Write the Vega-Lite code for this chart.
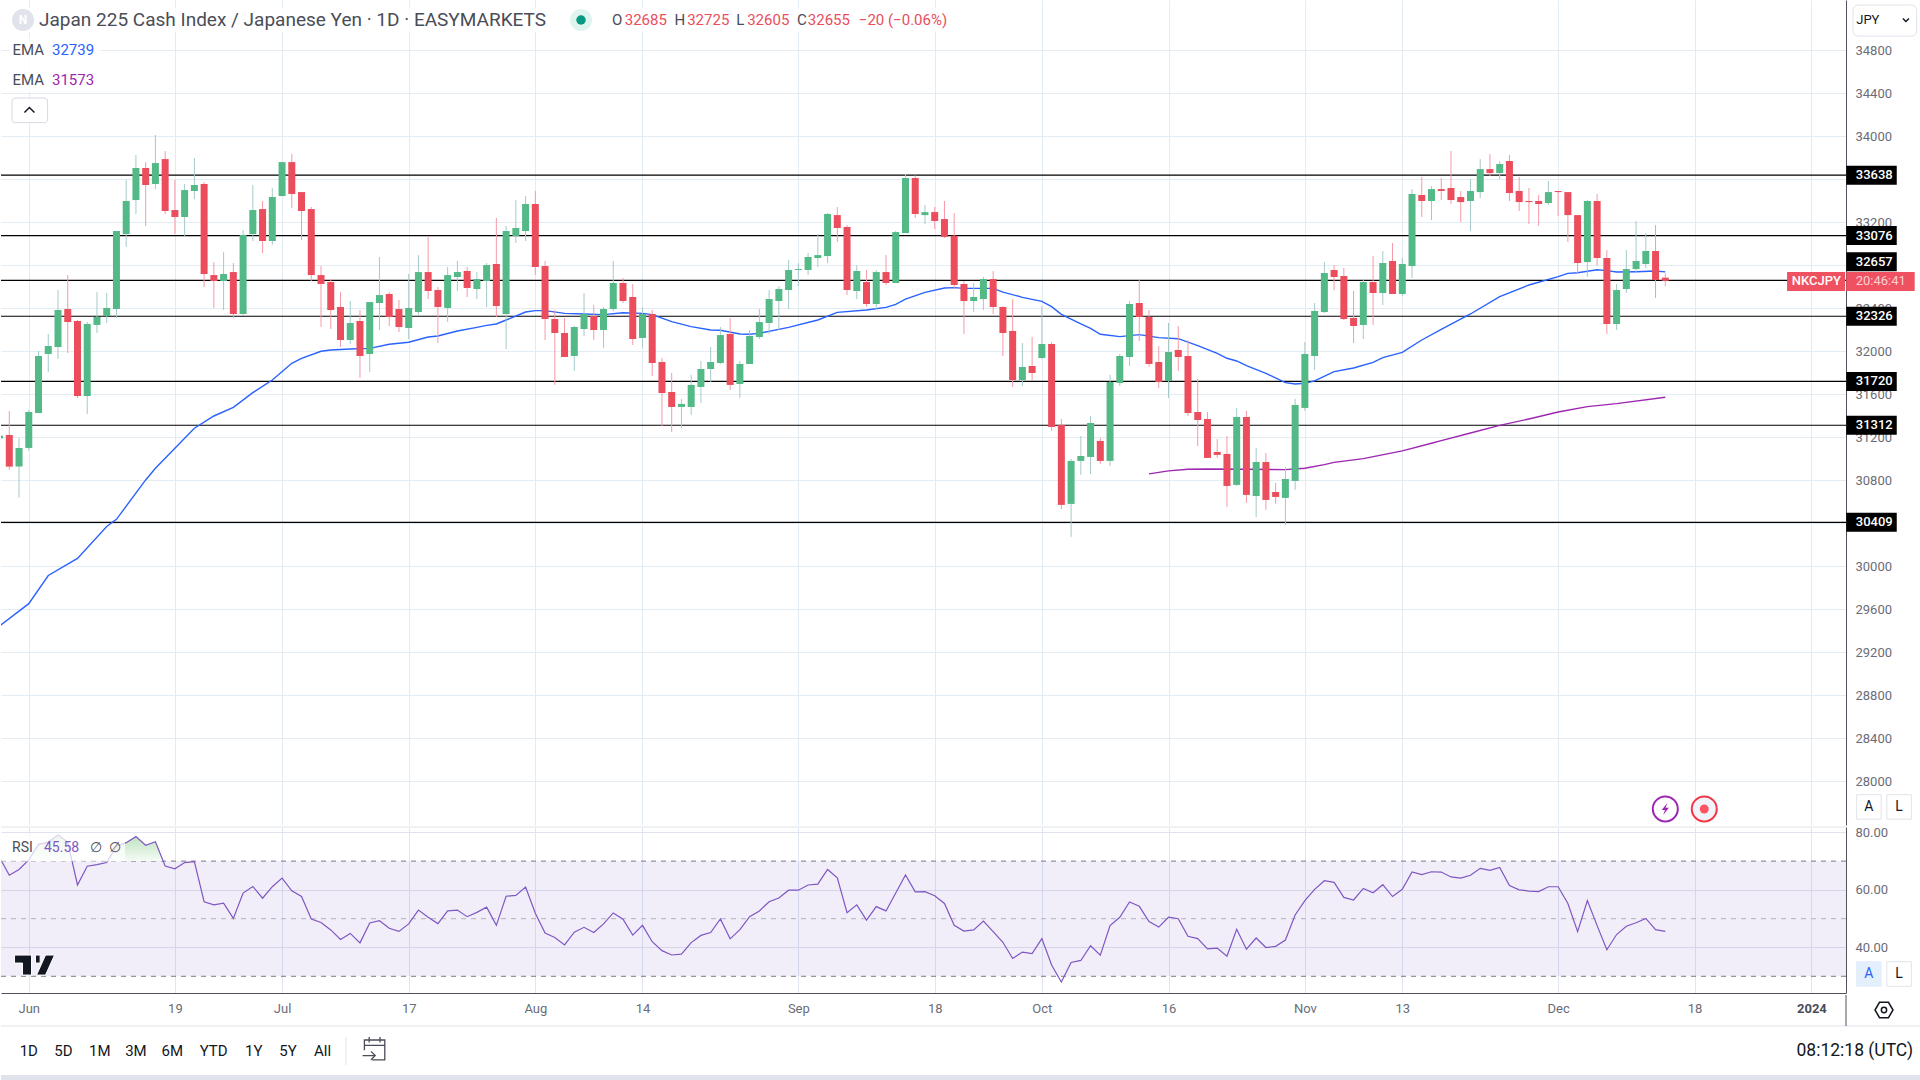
{
"$schema":"https://vega.github.io/schema/vega-lite/v6.json",
"padding":0,"background":"#ffffff","bounds":"flush","spacing":2,
"config":{"view":{"stroke":null},"font":"Roboto","axis":{"labelFont":"Roboto","title":null}},
"datasets":{
"candles":[
{"i":-1,"o":31190,"h":31240,"l":31170,"c":31215},
{"i":0,"o":31221,"h":31445,"l":30896,"c":30927},{"i":1,"o":30927,"h":31194,"l":30639,"c":31101},{"i":2,"o":31101,"h":31454,"l":31076,"c":31435},{"i":3,"o":31426,"h":32003,"l":31426,"c":31956},{"i":4,"o":31975,"h":32161,"l":31807,"c":32049},{"i":5,"o":32040,"h":32570,"l":31928,"c":32384},{"i":6,"o":32393,"h":32709,"l":31984,"c":32272},{"i":7,"o":32282,"h":32291,"l":31566,"c":31584},{"i":8,"o":31584,"h":32272,"l":31417,"c":32254},{"i":9,"o":32245,"h":32551,"l":32170,"c":32319},
{"i":10,"o":32328,"h":32542,"l":32263,"c":32403},{"i":11,"o":32393,"h":33119,"l":32310,"c":33119},{"i":12,"o":33091,"h":33593,"l":32970,"c":33398},{"i":13,"o":33407,"h":33826,"l":33277,"c":33705},{"i":14,"o":33705,"h":33760,"l":33165,"c":33547},{"i":15,"o":33556,"h":34012,"l":33509,"c":33751},{"i":16,"o":33788,"h":33863,"l":33277,"c":33305},{"i":17,"o":33314,"h":33593,"l":33091,"c":33249},{"i":18,"o":33249,"h":33556,"l":33072,"c":33500},{"i":19,"o":33491,"h":33798,"l":33416,"c":33547},
{"i":20,"o":33556,"h":33574,"l":32598,"c":32719},{"i":21,"o":32709,"h":32830,"l":32403,"c":32654},{"i":22,"o":32654,"h":32923,"l":32384,"c":32719},{"i":23,"o":32737,"h":32821,"l":32310,"c":32347},{"i":24,"o":32347,"h":33128,"l":32338,"c":33082},{"i":25,"o":33091,"h":33547,"l":33026,"c":33314},{"i":26,"o":33323,"h":33398,"l":32914,"c":33026},{"i":27,"o":33026,"h":33519,"l":32989,"c":33435},{"i":28,"o":33444,"h":33760,"l":33444,"c":33760},{"i":29,"o":33760,"h":33835,"l":33333,"c":33463},
{"i":30,"o":33481,"h":33481,"l":33035,"c":33305},{"i":31,"o":33323,"h":33342,"l":32654,"c":32709},{"i":32,"o":32709,"h":32793,"l":32226,"c":32626},{"i":33,"o":32644,"h":32672,"l":32207,"c":32384},{"i":34,"o":32412,"h":32551,"l":32040,"c":32105},{"i":35,"o":32105,"h":32468,"l":32068,"c":32263},{"i":36,"o":32282,"h":32384,"l":31752,"c":31956},{"i":37,"o":31975,"h":32458,"l":31807,"c":32458},{"i":38,"o":32449,"h":32877,"l":32198,"c":32523},{"i":39,"o":32533,"h":32551,"l":32235,"c":32319},
{"i":40,"o":32393,"h":32477,"l":32179,"c":32226},{"i":41,"o":32217,"h":32719,"l":32114,"c":32403},{"i":42,"o":32365,"h":32895,"l":32338,"c":32737},{"i":43,"o":32737,"h":33072,"l":32486,"c":32561},{"i":44,"o":32570,"h":32598,"l":32077,"c":32412},{"i":45,"o":32403,"h":32784,"l":32272,"c":32709},{"i":46,"o":32691,"h":32840,"l":32561,"c":32737},{"i":47,"o":32747,"h":32784,"l":32505,"c":32589},{"i":48,"o":32579,"h":32737,"l":32486,"c":32672},{"i":49,"o":32654,"h":32821,"l":32412,"c":32802},
{"i":50,"o":32812,"h":33240,"l":32319,"c":32421},{"i":51,"o":32347,"h":33165,"l":32021,"c":33119},{"i":52,"o":33072,"h":33407,"l":33007,"c":33147},{"i":53,"o":33119,"h":33444,"l":33026,"c":33370},{"i":54,"o":33370,"h":33491,"l":32709,"c":32784},{"i":55,"o":32793,"h":32840,"l":32105,"c":32300},{"i":56,"o":32300,"h":32384,"l":31687,"c":32170},{"i":57,"o":32170,"h":32310,"l":31947,"c":31947},{"i":58,"o":31956,"h":32235,"l":31817,"c":32226},{"i":59,"o":32207,"h":32542,"l":32142,"c":32347},
{"i":60,"o":32328,"h":32430,"l":32105,"c":32198},{"i":61,"o":32198,"h":32412,"l":32031,"c":32393},{"i":62,"o":32393,"h":32840,"l":32375,"c":32635},{"i":63,"o":32635,"h":32682,"l":32449,"c":32468},{"i":64,"o":32505,"h":32626,"l":32059,"c":32114},{"i":65,"o":32124,"h":32412,"l":32031,"c":32347},{"i":66,"o":32347,"h":32384,"l":31770,"c":31891},{"i":67,"o":31900,"h":31938,"l":31305,"c":31612},{"i":68,"o":31621,"h":31798,"l":31249,"c":31482},{"i":69,"o":31482,"h":31556,"l":31287,"c":31510},
{"i":70,"o":31482,"h":31780,"l":31408,"c":31687},{"i":71,"o":31668,"h":31910,"l":31519,"c":31835},{"i":72,"o":31835,"h":32040,"l":31714,"c":31900},{"i":73,"o":31891,"h":32226,"l":31882,"c":32151},{"i":74,"o":32161,"h":32310,"l":31640,"c":31687},{"i":75,"o":31696,"h":31910,"l":31566,"c":31882},{"i":76,"o":31882,"h":32198,"l":31882,"c":32142},{"i":77,"o":32133,"h":32393,"l":32114,"c":32272},{"i":78,"o":32263,"h":32570,"l":32161,"c":32486},{"i":79,"o":32468,"h":32607,"l":32198,"c":32579},
{"i":80,"o":32570,"h":32849,"l":32393,"c":32756},{"i":81,"o":32756,"h":32821,"l":32607,"c":32765},{"i":82,"o":32756,"h":32914,"l":32709,"c":32877},{"i":83,"o":32868,"h":33091,"l":32784,"c":32895},{"i":84,"o":32886,"h":33286,"l":32821,"c":33277},{"i":85,"o":33267,"h":33342,"l":33016,"c":33147},{"i":86,"o":33156,"h":33174,"l":32523,"c":32570},{"i":87,"o":32561,"h":32802,"l":32486,"c":32747},{"i":88,"o":32644,"h":32756,"l":32412,"c":32440},{"i":89,"o":32440,"h":32756,"l":32393,"c":32737},
{"i":90,"o":32737,"h":32895,"l":32617,"c":32635},{"i":91,"o":32635,"h":33119,"l":32635,"c":33109},{"i":92,"o":33100,"h":33649,"l":33100,"c":33612},{"i":93,"o":33612,"h":33636,"l":33240,"c":33277},{"i":94,"o":33267,"h":33361,"l":33184,"c":33295},{"i":95,"o":33295,"h":33342,"l":33137,"c":33212},{"i":96,"o":33230,"h":33398,"l":33054,"c":33063},{"i":97,"o":33075,"h":33286,"l":32579,"c":32617},{"i":98,"o":32626,"h":32654,"l":32161,"c":32468},{"i":99,"o":32468,"h":32635,"l":32365,"c":32505},
{"i":100,"o":32486,"h":32691,"l":32384,"c":32672},{"i":101,"o":32672,"h":32747,"l":32347,"c":32412},{"i":102,"o":32412,"h":32421,"l":31956,"c":32170},{"i":103,"o":32189,"h":32486,"l":31668,"c":31733},{"i":104,"o":31733,"h":32077,"l":31677,"c":31854},{"i":105,"o":31863,"h":32133,"l":31724,"c":31798},{"i":106,"o":31938,"h":32421,"l":31928,"c":32068},{"i":107,"o":32068,"h":32086,"l":31259,"c":31296},{"i":108,"o":31315,"h":31370,"l":30533,"c":30571},{"i":109,"o":30580,"h":31000,"l":30273,"c":30980},
{"i":110,"o":30980,"h":31212,"l":30850,"c":31026},{"i":111,"o":31017,"h":31398,"l":30859,"c":31333},{"i":112,"o":31166,"h":31194,"l":30952,"c":30980},{"i":113,"o":30980,"h":31780,"l":30933,"c":31714},{"i":114,"o":31705,"h":31975,"l":31677,"c":31956},{"i":115,"o":31947,"h":32468,"l":31863,"c":32440},{"i":116,"o":32449,"h":32663,"l":32096,"c":32319},{"i":117,"o":32319,"h":32384,"l":31854,"c":31882},{"i":118,"o":31900,"h":32049,"l":31659,"c":31714},{"i":119,"o":31724,"h":32263,"l":31566,"c":31993},
{"i":120,"o":32012,"h":32235,"l":31817,"c":31947},{"i":121,"o":31956,"h":32105,"l":31398,"c":31426},{"i":122,"o":31435,"h":31742,"l":31119,"c":31361},{"i":123,"o":31370,"h":31435,"l":31008,"c":31008},{"i":124,"o":31063,"h":31184,"l":31008,"c":31036},{"i":125,"o":31045,"h":31212,"l":30552,"c":30747},{"i":126,"o":30757,"h":31473,"l":30747,"c":31389},{"i":127,"o":31389,"h":31445,"l":30589,"c":30664},{"i":128,"o":30654,"h":31101,"l":30459,"c":30970},{"i":129,"o":30970,"h":31054,"l":30524,"c":30617},
{"i":130,"o":30691,"h":30775,"l":30580,"c":30645},{"i":131,"o":30636,"h":30924,"l":30385,"c":30812},{"i":132,"o":30794,"h":31556,"l":30710,"c":31500},{"i":133,"o":31473,"h":32086,"l":31445,"c":31975},{"i":134,"o":31956,"h":32449,"l":31826,"c":32375},{"i":135,"o":32365,"h":32830,"l":32356,"c":32728},{"i":136,"o":32756,"h":32802,"l":32570,"c":32691},{"i":137,"o":32700,"h":32775,"l":32291,"c":32300},{"i":138,"o":32310,"h":32561,"l":32077,"c":32235},{"i":139,"o":32245,"h":32663,"l":32114,"c":32644},
{"i":140,"o":32644,"h":32886,"l":32245,"c":32542},{"i":141,"o":32542,"h":32933,"l":32430,"c":32821},{"i":142,"o":32840,"h":33007,"l":32533,"c":32533},{"i":143,"o":32533,"h":32868,"l":32514,"c":32812},{"i":144,"o":32793,"h":33509,"l":32682,"c":33463},{"i":145,"o":33454,"h":33621,"l":33249,"c":33398},{"i":146,"o":33398,"h":33537,"l":33221,"c":33509},{"i":147,"o":33509,"h":33612,"l":33407,"c":33491},{"i":148,"o":33519,"h":33863,"l":33370,"c":33407},{"i":149,"o":33435,"h":33491,"l":33202,"c":33388},
{"i":150,"o":33398,"h":33602,"l":33119,"c":33491},{"i":151,"o":33481,"h":33788,"l":33426,"c":33695},{"i":152,"o":33695,"h":33835,"l":33630,"c":33658},{"i":153,"o":33658,"h":33770,"l":33602,"c":33742},{"i":154,"o":33770,"h":33826,"l":33398,"c":33472},{"i":155,"o":33491,"h":33621,"l":33305,"c":33388},{"i":156,"o":33398,"h":33519,"l":33184,"c":33388},{"i":157,"o":33398,"h":33453,"l":33165,"c":33370},{"i":158,"o":33379,"h":33584,"l":33360,"c":33481},{"i":159,"o":33491,"h":33491,"l":33258,"c":33481},
{"i":160,"o":33481,"h":33481,"l":33016,"c":33267},{"i":161,"o":33267,"h":33267,"l":32719,"c":32821},{"i":162,"o":32830,"h":33407,"l":32691,"c":33398},{"i":163,"o":33398,"h":33463,"l":32793,"c":32868},{"i":164,"o":32868,"h":32942,"l":32161,"c":32254},{"i":165,"o":32254,"h":32626,"l":32198,"c":32570},{"i":166,"o":32579,"h":32942,"l":32542,"c":32765},{"i":167,"o":32765,"h":33212,"l":32737,"c":32840},{"i":168,"o":32812,"h":33100,"l":32775,"c":32933},{"i":169,"o":32933,"h":33174,"l":32496,"c":32663},{"i":170,"o":32685,"h":32725,"l":32605,"c":32655}
],
"ema50":[{"i":-1,"ema":29445},{"i":2,"ema":29652},{"i":4,"ema":29914},{"i":7,"ema":30073},{"i":10,"ema":30370},{"i":11,"ema":30437},{"i":14,"ema":30803},{"i":15,"ema":30912},{"i":17,"ema":31097},{"i":19,"ema":31284},{"i":21,"ema":31398},{"i":23,"ema":31479},{"i":25,"ema":31615},{"i":27,"ema":31733},{"i":29,"ema":31888},{"i":30,"ema":31935},{"i":32,"ema":32000},{"i":33,"ema":32012},{"i":35,"ema":32021},{"i":37,"ema":32027},{"i":39,"ema":32065},{"i":41,"ema":32084},{"i":43,"ema":32133},{"i":44,"ema":32142},{"i":46,"ema":32189},{"i":48,"ema":32223},{"i":49,"ema":32241},{"i":50,"ema":32254},{"i":51,"ema":32291},{"i":53,"ema":32365},{"i":54,"ema":32378},{"i":55,"ema":32378},{"i":57,"ema":32353},{"i":59,"ema":32347},{"i":61,"ema":32341},{"i":63,"ema":32359},{"i":65,"ema":32353},{"i":66,"ema":32341},{"i":68,"ema":32276},{"i":70,"ema":32229},{"i":72,"ema":32198},{"i":73,"ema":32195},{"i":75,"ema":32161},{"i":76,"ema":32158},{"i":77,"ema":32167},{"i":80,"ema":32223},{"i":83,"ema":32291},{"i":85,"ema":32362},{"i":88,"ema":32384},{"i":90,"ema":32409},{"i":91,"ema":32437},{"i":92,"ema":32486},{"i":94,"ema":32548},{"i":96,"ema":32589},{"i":97,"ema":32592},{"i":98,"ema":32585},{"i":101,"ema":32585},{"i":102,"ema":32551},{"i":104,"ema":32502},{"i":106,"ema":32465},{"i":107,"ema":32415},{"i":108,"ema":32344},{"i":110,"ema":32254},{"i":111,"ema":32213},{"i":112,"ema":32158},{"i":114,"ema":32136},{"i":116,"ema":32155},{"i":118,"ema":32127},{"i":120,"ema":32117},{"i":122,"ema":32052},{"i":124,"ema":31981},{"i":125,"ema":31935},{"i":126,"ema":31910},{"i":127,"ema":31866},{"i":129,"ema":31795},{"i":131,"ema":31708},{"i":132,"ema":31696},{"i":133,"ema":31702},{"i":134,"ema":31724},{"i":136,"ema":31811},{"i":138,"ema":31845},{"i":140,"ema":31897},{"i":141,"ema":31941},{"i":143,"ema":31990},{"i":145,"ema":32105},{"i":147,"ema":32204},{"i":150,"ema":32347},{"i":153,"ema":32508},{"i":156,"ema":32617},{"i":159,"ema":32694},{"i":160,"ema":32725},{"i":161,"ema":32731},{"i":163,"ema":32759},{"i":164,"ema":32750},{"i":165,"ema":32737},{"i":167,"ema":32740},{"i":169,"ema":32747},{"i":170,"ema":32739}],
"ema200":[{"i":117,"ema":30859},{"i":119,"ema":30887},{"i":121,"ema":30902},{"i":123,"ema":30905},{"i":127,"ema":30902},{"i":131,"ema":30899},{"i":133,"ema":30912},{"i":135,"ema":30946},{"i":136,"ema":30967},{"i":139,"ema":31001},{"i":143,"ema":31073},{"i":146,"ema":31144},{"i":147,"ema":31169},{"i":150,"ema":31240},{"i":153,"ema":31311},{"i":156,"ema":31370},{"i":159,"ema":31435},{"i":162,"ema":31485},{"i":165,"ema":31513},{"i":170,"ema":31573}],
"levels":[{"level":33638,"tag":33638,"label":"33638","from":-0.852,"to":188.55,"tagFrom":188.58,"tagTo":193.76,"tagText":189.55},{"level":33076,"tag":33076,"label":"33076","from":-0.852,"to":188.55,"tagFrom":188.58,"tagTo":193.76,"tagText":189.55},{"level":32660,"tag":32834,"label":"32657","from":-0.852,"to":188.55,"tagFrom":188.58,"tagTo":193.76,"tagText":189.55},{"level":32326,"tag":32326,"label":"32326","from":-0.852,"to":188.55,"tagFrom":188.58,"tagTo":193.76,"tagText":189.55},{"level":31720,"tag":31720,"label":"31720","from":-0.852,"to":188.55,"tagFrom":188.58,"tagTo":193.76,"tagText":189.55},{"level":31312,"tag":31312,"label":"31312","from":-0.852,"to":188.55,"tagFrom":188.58,"tagTo":193.76,"tagText":189.55},{"level":30409,"tag":30409,"label":"30409","from":-0.852,"to":188.55,"tagFrom":188.58,"tagTo":193.76,"tagText":189.55}],
"rsi":[{"i":-1,"rsi":71.3},{"i":0,"rsi":65.1},{"i":1,"rsi":67.1},{"i":2,"rsi":70.4},{"i":3,"rsi":75.8},{"i":4,"rsi":76.6},{"i":5,"rsi":79.1},{"i":6,"rsi":76.6},{"i":7,"rsi":61.7},{"i":8,"rsi":68.2},{"i":9,"rsi":68.8},{"i":10,"rsi":69.5},{"i":11,"rsi":75.2},{"i":12,"rsi":76.4},{"i":13,"rsi":78.5},{"i":14,"rsi":75.5},{"i":15,"rsi":76.7},{"i":16,"rsi":68.3},{"i":17,"rsi":67.3},{"i":18,"rsi":69.5},{"i":19,"rsi":69.8},{"i":20,"rsi":55.9},{"i":21,"rsi":54.8},{"i":22,"rsi":55.4},{"i":23,"rsi":50.1},{"i":24,"rsi":58.9},{"i":25,"rsi":61.2},{"i":26,"rsi":57.1},{"i":27,"rsi":61.1},{"i":28,"rsi":64.1},{"i":29,"rsi":59.7},{"i":30,"rsi":57.7},{"i":31,"rsi":49.9},{"i":32,"rsi":48.7},{"i":33,"rsi":46.1},{"i":34,"rsi":42.8},{"i":35,"rsi":44.9},{"i":36,"rsi":41.6},{"i":37,"rsi":48.5},{"i":38,"rsi":49.3},{"i":39,"rsi":46.7},{"i":40,"rsi":45.6},{"i":41,"rsi":48.2},{"i":42,"rsi":53.0},{"i":43,"rsi":50.5},{"i":44,"rsi":48.3},{"i":45,"rsi":52.7},{"i":46,"rsi":53.0},{"i":47,"rsi":50.7},{"i":48,"rsi":52.2},{"i":49,"rsi":54.0},{"i":50,"rsi":47.7},{"i":51,"rsi":57.8},{"i":52,"rsi":58.1},{"i":53,"rsi":61.0},{"i":54,"rsi":51.9},{"i":55,"rsi":45.0},{"i":56,"rsi":43.5},{"i":57,"rsi":40.9},{"i":58,"rsi":45.3},{"i":59,"rsi":47.0},{"i":60,"rsi":45.2},{"i":61,"rsi":48.2},{"i":62,"rsi":52.0},{"i":63,"rsi":49.8},{"i":64,"rsi":44.3},{"i":65,"rsi":47.7},{"i":66,"rsi":42.0},{"i":67,"rsi":38.9},{"i":68,"rsi":37.4},{"i":69,"rsi":37.7},{"i":70,"rsi":41.7},{"i":71,"rsi":44.2},{"i":72,"rsi":45.2},{"i":73,"rsi":49.9},{"i":74,"rsi":43.0},{"i":75,"rsi":46.2},{"i":76,"rsi":50.7},{"i":77,"rsi":52.7},{"i":78,"rsi":55.9},{"i":79,"rsi":57.2},{"i":80,"rsi":59.9},{"i":81,"rsi":59.9},{"i":82,"rsi":61.7},{"i":83,"rsi":62.0},{"i":84,"rsi":67.1},{"i":85,"rsi":64.2},{"i":86,"rsi":52.1},{"i":87,"rsi":54.8},{"i":88,"rsi":49.5},{"i":89,"rsi":54.2},{"i":90,"rsi":52.7},{"i":91,"rsi":58.9},{"i":92,"rsi":65.2},{"i":93,"rsi":59.3},{"i":94,"rsi":59.4},{"i":95,"rsi":58.0},{"i":96,"rsi":55.3},{"i":97,"rsi":47.7},{"i":98,"rsi":45.7},{"i":99,"rsi":46.1},{"i":100,"rsi":49.2},{"i":101,"rsi":45.5},{"i":102,"rsi":41.8},{"i":103,"rsi":36.2},{"i":104,"rsi":38.4},{"i":105,"rsi":37.9},{"i":106,"rsi":43.1},{"i":107,"rsi":33.9},{"i":108,"rsi":28.0},{"i":109,"rsi":34.8},{"i":110,"rsi":35.5},{"i":111,"rsi":40.6},{"i":112,"rsi":37.3},{"i":113,"rsi":47.6},{"i":114,"rsi":50.5},{"i":115,"rsi":55.8},{"i":116,"rsi":54.3},{"i":117,"rsi":49.0},{"i":118,"rsi":47.1},{"i":119,"rsi":50.5},{"i":120,"rsi":50.0},{"i":121,"rsi":43.9},{"i":122,"rsi":43.1},{"i":123,"rsi":39.5},{"i":124,"rsi":39.8},{"i":125,"rsi":37.0},{"i":126,"rsi":46.3},{"i":127,"rsi":39.4},{"i":128,"rsi":43.3},{"i":129,"rsi":40.0},{"i":130,"rsi":40.4},{"i":131,"rsi":42.6},{"i":132,"rsi":51.3},{"i":133,"rsi":56.3},{"i":134,"rsi":60.2},{"i":135,"rsi":63.2},{"i":136,"rsi":62.6},{"i":137,"rsi":57.4},{"i":138,"rsi":56.5},{"i":139,"rsi":60.5},{"i":140,"rsi":59.0},{"i":141,"rsi":61.8},{"i":142,"rsi":57.7},{"i":143,"rsi":60.2},{"i":144,"rsi":66.2},{"i":145,"rsi":65.3},{"i":146,"rsi":66.3},{"i":147,"rsi":66.2},{"i":148,"rsi":64.5},{"i":149,"rsi":64.1},{"i":150,"rsi":65.1},{"i":151,"rsi":67.5},{"i":152,"rsi":66.8},{"i":153,"rsi":67.8},{"i":154,"rsi":61.5},{"i":155,"rsi":60.0},{"i":156,"rsi":59.6},{"i":157,"rsi":59.4},{"i":158,"rsi":61.1},{"i":159,"rsi":61.1},{"i":160,"rsi":55.3},{"i":161,"rsi":45.5},{"i":162,"rsi":56.3},{"i":163,"rsi":47.6},{"i":164,"rsi":39.2},{"i":165,"rsi":44.5},{"i":166,"rsi":47.4},{"i":167,"rsi":48.6},{"i":168,"rsi":50.1},{"i":169,"rsi":46.2},{"i":170,"rsi":45.6}],
"overbought":[{"seg":1,"i":2,"rsi":70.4},{"seg":1,"i":3,"rsi":75.8},{"seg":1,"i":4,"rsi":76.6},{"seg":1,"i":5,"rsi":79.1},{"seg":1,"i":6,"rsi":76.6},{"seg":1,"i":6.44,"rsi":70},{"seg":2,"i":10.1,"rsi":70},{"seg":2,"i":11,"rsi":75.2},{"seg":2,"i":12,"rsi":76.4},{"seg":2,"i":13,"rsi":78.5},{"seg":2,"i":14,"rsi":75.5},{"seg":2,"i":15,"rsi":76.7},{"seg":2,"i":15.8,"rsi":70}]
},
"vconcat":[
{"width":1845,"height":825,
 "encoding":{"x":{"field":"i","type":"quantitative","title":null,"scale":{"domain":[-0.852,188.55],"nice":false,"zero":false,"padding":0},"axis":{"values":[2,17,28,41,54,65,81,95,106,119,133,143,159,173,185],"labels":false,"ticks":false,"domain":false,"grid":true,"gridColor":"#e3ecf3","gridWidth":1,"title":null}}},
 "layer":[
 {"data":{"values":[{"i":-0.03,"i2":97.7,"p":35194,"p2":34970},{"i":-0.03,"i2":9.4,"p":34914,"p2":34412}]},"mark":{"type":"rect","fill":"#ffffff","opacity":0.85},
  "encoding":{"x2":{"field":"i2"},"y":{"field":"p","type":"quantitative","title":null,"scale":{"domain":[27593,35268],"nice":false,"zero":false},"axis":{"orient":"right","values":[28000,28400,28800,29200,29600,30000,30400,30800,31200,31600,32000,32400,32800,33200,33600,34000,34400,34800],"format":"d","grid":true,"gridColor":"#e3ecf3","gridWidth":1,"ticks":false,"domain":true,"domainColor":"#50535e","domainWidth":1,"labelColor":"#6a6d78","labelFontSize":13,"labelPadding":9,"labelOverlap":false,"title":null}},"y2":{"field":"p2"}}},
 {"data":{"name":"levels"},"mark":{"type":"rule","color":"#000000","strokeWidth":1.2},"encoding":{"x":{"field":"from","type":"quantitative"},"x2":{"field":"to"},"y":{"field":"level","type":"quantitative"}}},
 {"data":{"name":"ema200"},"mark":{"type":"line","color":"#9c27b0","strokeWidth":1.4,"clip":true},"encoding":{"y":{"field":"ema","type":"quantitative"}}},
 {"data":{"name":"ema50"},"mark":{"type":"line","color":"#2962ff","strokeWidth":1.4,"clip":true},"encoding":{"y":{"field":"ema","type":"quantitative"}}},
 {"data":{"name":"candles"},"mark":{"type":"rule","strokeWidth":1,"clip":true},"encoding":{"y":{"field":"l","type":"quantitative"},"y2":{"field":"h"},"color":{"condition":{"test":"datum.c>=datum.o","value":"#a5c9c9"},"value":"#f59aa6"}}},
 {"data":{"name":"candles"},"mark":{"type":"bar","orient":"vertical","size":7,"clip":true},"encoding":{"y":{"field":"o","type":"quantitative"},"y2":{"field":"c"},"color":{"condition":{"test":"datum.c>=datum.o","value":"#53b987"},"value":"#eb4d5c"}}},
 {"data":{"name":"levels"},"mark":{"type":"rule","color":"#000000","strokeWidth":19},"encoding":{"x":{"field":"tagFrom","type":"quantitative"},"x2":{"field":"tagTo"},"y":{"field":"tag","type":"quantitative"}}},
 {"data":{"name":"levels"},"mark":{"type":"text","color":"#ffffff","fontSize":13,"fontWeight":500,"align":"left","baseline":"middle"},"encoding":{"x":{"field":"tagText","type":"quantitative"},"y":{"field":"tag","type":"quantitative"},"text":{"field":"label"}}},
 {"data":{"values":[{"i":182.5,"i2":188.45,"p":32650},{"i":188.58,"i2":195.6,"p":32650}]},"mark":{"type":"rule","color":"#ef5160","strokeWidth":19},"encoding":{"x2":{"field":"i2"},"y":{"field":"p","type":"quantitative"}}},
 {"data":{"values":[{"i":185.5,"p":32650,"label":"NKCJPY"}]},"mark":{"type":"text","color":"#ffffff","fontSize":13,"fontWeight":500,"align":"center","baseline":"middle"},"encoding":{"y":{"field":"p","type":"quantitative"},"text":{"field":"label"}}},
 {"data":{"values":[{"i":189.55,"p":32650,"label":"20:46:41"}]},"mark":{"type":"text","color":"#fbd0d5","fontSize":13,"align":"left","baseline":"middle"},"encoding":{"y":{"field":"p","type":"quantitative"},"text":{"field":"label"}}},
 {"data":{"values":[{"i":1.41,"p":35082}]},"mark":{"type":"point","filled":true,"size":484,"shape":"circle","color":"#e0e3eb","opacity":1},"encoding":{"y":{"field":"p","type":"quantitative"}}},
 {"data":{"values":[{"i":1.41,"p":35082,"label":"N"}]},"mark":{"type":"text","color":"#ffffff","fontSize":12,"fontWeight":700,"align":"center","baseline":"middle"},"encoding":{"y":{"field":"p","type":"quantitative"},"text":{"field":"label"}}},
 {"data":{"values":[{"i":3.05,"p":35082,"label":"Japan 225 Cash Index / Japanese Yen · 1D · EASYMARKETS"}]},"mark":{"type":"text","color":"#4a4d57","fontSize":19,"align":"left","baseline":"middle"},"encoding":{"y":{"field":"p","type":"quantitative"},"text":{"field":"label"}}},
 {"data":{"values":[{"i":58.69,"p":35082}]},"mark":{"type":"point","filled":true,"size":484,"shape":"circle","color":"#dff3ef","opacity":1},"encoding":{"y":{"field":"p","type":"quantitative"}}},
 {"data":{"values":[{"i":58.69,"p":35082}]},"mark":{"type":"point","filled":true,"size":90,"shape":"circle","color":"#089981","opacity":1},"encoding":{"y":{"field":"p","type":"quantitative"}}},
 {"data":{"values":[{"i":61.87,"p":35082,"label":"O"},{"i":68.29,"p":35082,"label":"H"},{"i":74.63,"p":35082,"label":"L"},{"i":80.86,"p":35082,"label":"C"},{"i":0.33,"p":34801,"label":"EMA"},{"i":0.33,"p":34520,"label":"EMA"}]},"mark":{"type":"text","color":"#4a4d57","fontSize":15,"align":"left","baseline":"middle"},"encoding":{"y":{"field":"p","type":"quantitative"},"text":{"field":"label"}}},
 {"data":{"values":[{"i":63.18,"p":35082,"label":"32685"},{"i":69.59,"p":35082,"label":"32725"},{"i":75.75,"p":35082,"label":"32605"},{"i":81.97,"p":35082,"label":"32655"},{"i":87.21,"p":35082,"label":"−20 (−0.06%)"}]},"mark":{"type":"text","color":"#eb4d5c","fontSize":15,"align":"left","baseline":"middle"},"encoding":{"y":{"field":"p","type":"quantitative"},"text":{"field":"label"}}},
 {"data":{"values":[{"i":4.38,"p":34801,"label":"32739"}]},"mark":{"type":"text","color":"#2962ff","fontSize":15,"align":"left","baseline":"middle"},"encoding":{"y":{"field":"p","type":"quantitative"},"text":{"field":"label"}}},
 {"data":{"values":[{"i":4.38,"p":34520,"label":"31573"}]},"mark":{"type":"text","color":"#9c27b0","fontSize":15,"align":"left","baseline":"middle"},"encoding":{"y":{"field":"p","type":"quantitative"},"text":{"field":"label"}}},
 {"data":{"values":[{"i":0.28,"i2":3.93,"p":34356,"p2":34127}]},"mark":{"type":"rect","fill":"#ffffff","stroke":"#d6d9e3","strokeWidth":1,"cornerRadius":3},"encoding":{"x2":{"field":"i2"},"y":{"field":"p","type":"quantitative"},"y2":{"field":"p2"}}},
 {"data":{"values":[{"i":2.07,"p":34245}]},"mark":{"type":"point","shape":"M-1,0.5 L0,-0.5 L1,0.5","size":100,"stroke":"#131722","strokeWidth":1.5,"filled":false,"opacity":1},"encoding":{"y":{"field":"p","type":"quantitative"}}},
 {"data":{"values":[{"i":189.27,"i2":195.8,"p":35221,"p2":34932}]},"mark":{"type":"rect","fill":"#ffffff","stroke":"#e0e3eb","strokeWidth":1,"cornerRadius":5},"encoding":{"x2":{"field":"i2"},"y":{"field":"p","type":"quantitative"},"y2":{"field":"p2"}}},
 {"data":{"values":[{"i":189.6,"p":35082,"label":"JPY"}]},"mark":{"type":"text","color":"#131722","fontSize":13,"align":"left","baseline":"middle"},"encoding":{"y":{"field":"p","type":"quantitative"},"text":{"field":"label"}}},
 {"data":{"values":[{"i":194.7,"p":35082}]},"mark":{"type":"point","shape":"M-1,-0.5 L0,0.5 L1,-0.5","size":36,"stroke":"#131722","strokeWidth":1.5,"filled":false,"opacity":1},"encoding":{"y":{"field":"p","type":"quantitative"}}},
 {"data":{"values":[{"i":170,"p":27742}]},"mark":{"type":"point","shape":"circle","size":625,"stroke":"#9c27b0","strokeWidth":2,"filled":false,"opacity":1},"encoding":{"y":{"field":"p","type":"quantitative"}}},
 {"data":{"values":[{"i":170,"p":27742}]},"mark":{"type":"point","shape":"M0.35,-1 L-0.6,0.15 L-0.05,0.15 L-0.35,1 L0.6,-0.2 L0.05,-0.2 Z","size":144,"fill":"#9c27b0","filled":true,"opacity":1},"encoding":{"y":{"field":"p","type":"quantitative"}}},
 {"data":{"values":[{"i":174,"p":27742}]},"mark":{"type":"point","shape":"circle","size":625,"stroke":"#f23645","fill":"#f0f3fa","strokeWidth":2,"filled":true,"opacity":1},"encoding":{"y":{"field":"p","type":"quantitative"}}},
 {"data":{"values":[{"i":174,"p":27742}]},"mark":{"type":"point","shape":"circle","size":80,"fill":"#ff5262","filled":true,"opacity":1},"encoding":{"y":{"field":"p","type":"quantitative"}}},
 {"data":{"values":[{"i":190.9,"p":27761},{"i":194,"p":27761}]},"mark":{"type":"point","shape":"square","size":600,"fill":"#ffffff","stroke":"#e0e3eb","strokeWidth":1,"filled":true,"opacity":1},"encoding":{"y":{"field":"p","type":"quantitative"}}},
 {"data":{"values":[{"i":190.9,"p":27761,"label":"A"},{"i":194,"p":27761,"label":"L"}]},"mark":{"type":"text","color":"#131722","fontSize":14,"align":"center","baseline":"middle"},"encoding":{"y":{"field":"p","type":"quantitative"},"text":{"field":"label"}}}
 ]},
{"width":1845,"height":166,
 "encoding":{"x":{"field":"i","type":"quantitative","title":null,"scale":{"domain":[-0.852,188.55],"nice":false,"zero":false},"axis":{"values":[2,17,28,41,54,65,81,95,106,119,133,143,159,173,185],"labelExpr":"{'2':'Jun','17':'19','28':'Jul','41':'17','54':'Aug','65':'14','81':'Sep','95':'18','106':'Oct','119':'16','133':'Nov','143':'13','159':'Dec','173':'18','185':'2024'}[datum.value]","labelColor":{"expr":"datum.value==185?'#4a4d57':'#6a6d78'"},"labelFontWeight":{"expr":"datum.value==185?'bold':'normal'"},"labelFontSize":13,"labelPadding":9,"labelOverlap":false,"ticks":false,"domain":true,"domainColor":"#50535e","domainWidth":1,"grid":true,"gridColor":"#dfe6f1","gridWidth":1,"title":null}}},
 "layer":[
 {"data":{"values":[{"i":-0.852,"i2":188.55,"v":70,"v2":30}]},"mark":{"type":"rect","fill":"#7e57c2","opacity":0.1},"encoding":{"x2":{"field":"i2"},"y":{"field":"v","type":"quantitative","title":null,"scale":{"domain":[24.2,81.84],"nice":false,"zero":false},"axis":{"orient":"right","values":[40,60,80],"format":".2f","grid":true,"gridColor":"#dfe3ee","gridWidth":1,"ticks":false,"domain":true,"domainColor":"#50535e","domainWidth":1,"labelColor":"#6a6d78","labelFontSize":13,"labelPadding":9,"title":null}},"y2":{"field":"v2"}}},
 {"data":{"values":[{"i":-0.852,"i2":188.55,"v":70},{"i":-0.852,"i2":188.55,"v":30}]},"mark":{"type":"rule","color":"#787b86","strokeWidth":1,"strokeDash":[5,5]},"encoding":{"x2":{"field":"i2"},"y":{"field":"v","type":"quantitative"}}},
 {"data":{"values":[{"i":-0.852,"i2":188.55,"v":50}]},"mark":{"type":"rule","color":"#b2b0bb","strokeWidth":1,"strokeDash":[5,5]},"encoding":{"x2":{"field":"i2"},"y":{"field":"v","type":"quantitative"}}},
 {"data":{"values":[{"i":-0.852,"i2":188.55,"v":81.84}]},"mark":{"type":"rule","color":"#e0e3eb","strokeWidth":1},"encoding":{"x2":{"field":"i2"},"y":{"field":"v","type":"quantitative"}}},
 {"data":{"name":"overbought"},"mark":{"type":"area","opacity":1,"clip":true,"color":{"x1":0,"y1":0,"x2":0,"y2":1,"gradient":"linear","stops":[{"offset":0,"color":"#bfe3c1"},{"offset":1,"color":"#f5fbf5"}]}},"encoding":{"y":{"field":"rsi","type":"quantitative"},"y2":{"datum":70},"detail":{"field":"seg"}}},
 {"data":{"name":"rsi"},"mark":{"type":"line","color":"#7e57c2","strokeWidth":1.2,"clip":true},"encoding":{"y":{"field":"rsi","type":"quantitative"}}},
 {"data":{"values":[{"i":-0.852,"i2":11.88,"v":79.4,"v2":69.9}]},"mark":{"type":"rect","fill":"#ffffff","opacity":0.72},"encoding":{"x2":{"field":"i2"},"y":{"field":"v","type":"quantitative"},"y2":{"field":"v2"}}},
 {"data":{"values":[{"i":0.28,"v":74.55,"label":"RSI"},{"i":8.3,"v":74.55,"label":"∅"},{"i":10.2,"v":74.55,"label":"∅"}]},"mark":{"type":"text","color":"#4a4d57","fontSize":14,"align":"left","baseline":"middle"},"encoding":{"y":{"field":"v","type":"quantitative"},"text":{"field":"label"}}},
 {"data":{"values":[{"i":3.56,"v":74.55,"label":"45.58"}]},"mark":{"type":"text","color":"#7e57c2","fontSize":14,"align":"left","baseline":"middle"},"encoding":{"y":{"field":"v","type":"quantitative"},"text":{"field":"label"}}},
 {"data":{"values":[{"i":2.59,"v":33.9}]},"mark":{"type":"point","shape":"M-1,-0.5 L-0.15,-0.5 L-0.15,0.5 L-0.6,0.5 L-0.6,-0.1 L-1,-0.1 Z M0.05,-0.5 L0.28,-0.5 L0.28,-0.1 L0.05,-0.1 Z M0.55,-0.5 L1,-0.5 L0.55,0.5 L0.1,0.5 Z","size":1600,"fill":"#131722","stroke":"#ffffff","strokeWidth":1,"filled":true,"opacity":1},"encoding":{"y":{"field":"v","type":"quantitative"}}},
 {"data":{"values":[{"i":190.9,"v":30.8}]},"mark":{"type":"point","shape":"square","size":600,"fill":"#e3effd","stroke":"#e3effd","strokeWidth":1,"filled":true,"opacity":1},"encoding":{"y":{"field":"v","type":"quantitative"}}},
 {"data":{"values":[{"i":194,"v":30.8}]},"mark":{"type":"point","shape":"square","size":600,"fill":"#ffffff","stroke":"#e0e3eb","strokeWidth":1,"filled":true,"opacity":1},"encoding":{"y":{"field":"v","type":"quantitative"}}},
 {"data":{"values":[{"i":190.9,"v":30.8,"label":"A"}]},"mark":{"type":"text","color":"#2962ff","fontSize":14,"align":"center","baseline":"middle"},"encoding":{"y":{"field":"v","type":"quantitative"},"text":{"field":"label"}}},
 {"data":{"values":[{"i":194,"v":30.8,"label":"L"}]},"mark":{"type":"text","color":"#131722","fontSize":14,"align":"center","baseline":"middle"},"encoding":{"y":{"field":"v","type":"quantitative"},"text":{"field":"label"}}}
 ]},
{"width":1845,"height":85,
 "encoding":{"x":{"field":"i","type":"quantitative","title":null,"scale":{"domain":[-0.852,188.55],"nice":false,"zero":false},"axis":null}},
 "layer":[
 {"data":{"values":[{"i":-0.852,"i2":196.25,"r":31}]},"mark":{"type":"rule","color":"#e0e3eb","strokeWidth":1},"encoding":{"x2":{"field":"i2"},"y":{"field":"r","type":"quantitative","scale":{"domain":[85,0],"nice":false,"zero":false},"axis":null}}},
 {"data":{"values":[{"i":188.55,"r":0,"r2":31}]},"mark":{"type":"rule","color":"#50535e","strokeWidth":1},"encoding":{"y":{"field":"r","type":"quantitative"},"y2":{"field":"r2"}}},
 {"data":{"values":[{"i":-0.852,"i2":196.25,"r":80,"r2":85}]},"mark":{"type":"rect","fill":"#e0e3eb"},"encoding":{"x2":{"field":"i2"},"y":{"field":"r","type":"quantitative"},"y2":{"field":"r2"}}},
 {"data":{"values":[{"i":2,"r":55.5,"label":"1D"},{"i":5.55,"r":55.5,"label":"5D"},{"i":9.29,"r":55.5,"label":"1M"},{"i":13,"r":55.5,"label":"3M"},{"i":16.74,"r":55.5,"label":"6M"},{"i":20.98,"r":55.5,"label":"YTD"},{"i":25.09,"r":55.5,"label":"1Y"},{"i":28.61,"r":55.5,"label":"5Y"},{"i":32.16,"r":55.5,"label":"All"}]},"mark":{"type":"text","color":"#131722","fontSize":15,"align":"center","baseline":"middle"},"encoding":{"y":{"field":"r","type":"quantitative"},"text":{"field":"label"}}},
 {"data":{"values":[{"i":34.57,"r":42,"r2":70}]},"mark":{"type":"rule","color":"#e0e3eb","strokeWidth":1},"encoding":{"y":{"field":"r","type":"quantitative"},"y2":{"field":"r2"}}},
 {"data":{"values":[{"i":37.5,"r":54}]},"mark":{"type":"point","shape":"M-0.85,-0.55 L-0.85,-0.75 L0.85,-0.75 L0.85,0.9 L-0.2,0.9 M-0.85,-0.55 L-0.85,0.1 M-0.85,-0.3 L0.85,-0.3 M-0.45,-1 L-0.45,-0.55 M0.45,-1 L0.45,-0.55 M-1,0.55 L0.05,0.55 M-0.3,0.2 L0.05,0.55 L-0.3,0.9","size":576,"stroke":"#4a4d57","strokeWidth":1.3,"filled":false,"opacity":1},"encoding":{"y":{"field":"r","type":"quantitative"}}},
 {"data":{"values":[{"i":192.45,"r":15}]},"mark":{"type":"point","shape":"M-0.5,-0.85 L0.5,-0.85 L1,0 L0.5,0.85 L-0.5,0.85 L-1,0 Z","size":324,"stroke":"#131722","strokeWidth":1.5,"filled":false,"opacity":1},"encoding":{"y":{"field":"r","type":"quantitative"}}},
 {"data":{"values":[{"i":192.45,"r":15}]},"mark":{"type":"point","shape":"circle","size":28,"stroke":"#131722","strokeWidth":1.5,"filled":false,"opacity":1},"encoding":{"y":{"field":"r","type":"quantitative"}}},
 {"data":{"values":[{"i":195.44,"r":56,"label":"08:12:18 (UTC)"}]},"mark":{"type":"text","color":"#131722","fontSize":17.5,"align":"right","baseline":"middle"},"encoding":{"y":{"field":"r","type":"quantitative"},"text":{"field":"label"}}}
 ]}
]
}
